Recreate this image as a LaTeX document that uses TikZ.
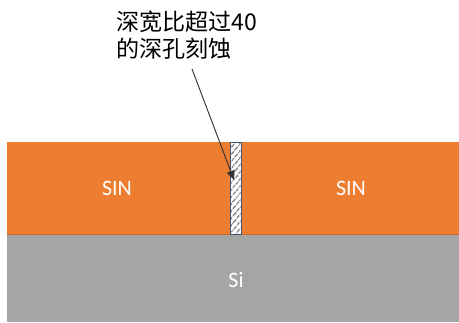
\documentclass[tikz,border=0pt]{standalone}
\usepackage{fontspec}
\setmainfont{Carlito}
\newfontfamily\cjk{Noto Sans CJK SC}
\usetikzlibrary{patterns.meta,arrows.meta}
\definecolor{sinorange}{HTML}{ED7D31}
\definecolor{sigray}{HTML}{A5A5A5}
\definecolor{holeedge}{HTML}{44546A}
\definecolor{hatchgray}{HTML}{8C8C8C}
\begin{document}
\begin{tikzpicture}[x={(0.75pt,0)},y={(0,-0.75pt)},
  layerlabel/.style={text=white,font=\fontsize{16.5}{19}\selectfont},
  callout/.style={font=\cjk\fontsize{17.3}{20.6}\selectfont,align=left,anchor=west,inner sep=0pt},
  pointer/.style={draw=black!80,line width=0.7pt,-{Triangle[length=7pt,width=6pt]}}]
\useasboundingbox (0,0) rectangle (459,322);
\fill[sigray] (7,234) rectangle (459,322);
\fill[sinorange] (7,142) rectangle (459,234);
\draw[sinorange!85!black,line width=0.4pt] (7,234) -- (459,234);
\filldraw[fill=white,draw=holeedge,line width=0.6pt] (230.5,142) rectangle (241,234);
\fill[pattern={Lines[angle=50,distance=4pt,line width=1.3pt]},pattern color=hatchgray] (231,142.5) rectangle (240.5,233.5);
\draw[holeedge,line width=0.7pt] (230.5,142) rectangle (241,234);
\coordinate (hole) at (234,180);
\node[layerlabel] (sinl) at (117,188) {SIN};
\node[layerlabel] (sinr) at (351,188) {SIN};
\node[layerlabel] (si) at (236,280) {Si};
\node[callout] (txt) at (116,35) {深宽比超过40\\的深孔刻蚀};
\coordinate (start) at (192,69);
\draw[pointer] (start) -- (hole);
\end{tikzpicture}
\end{document}
